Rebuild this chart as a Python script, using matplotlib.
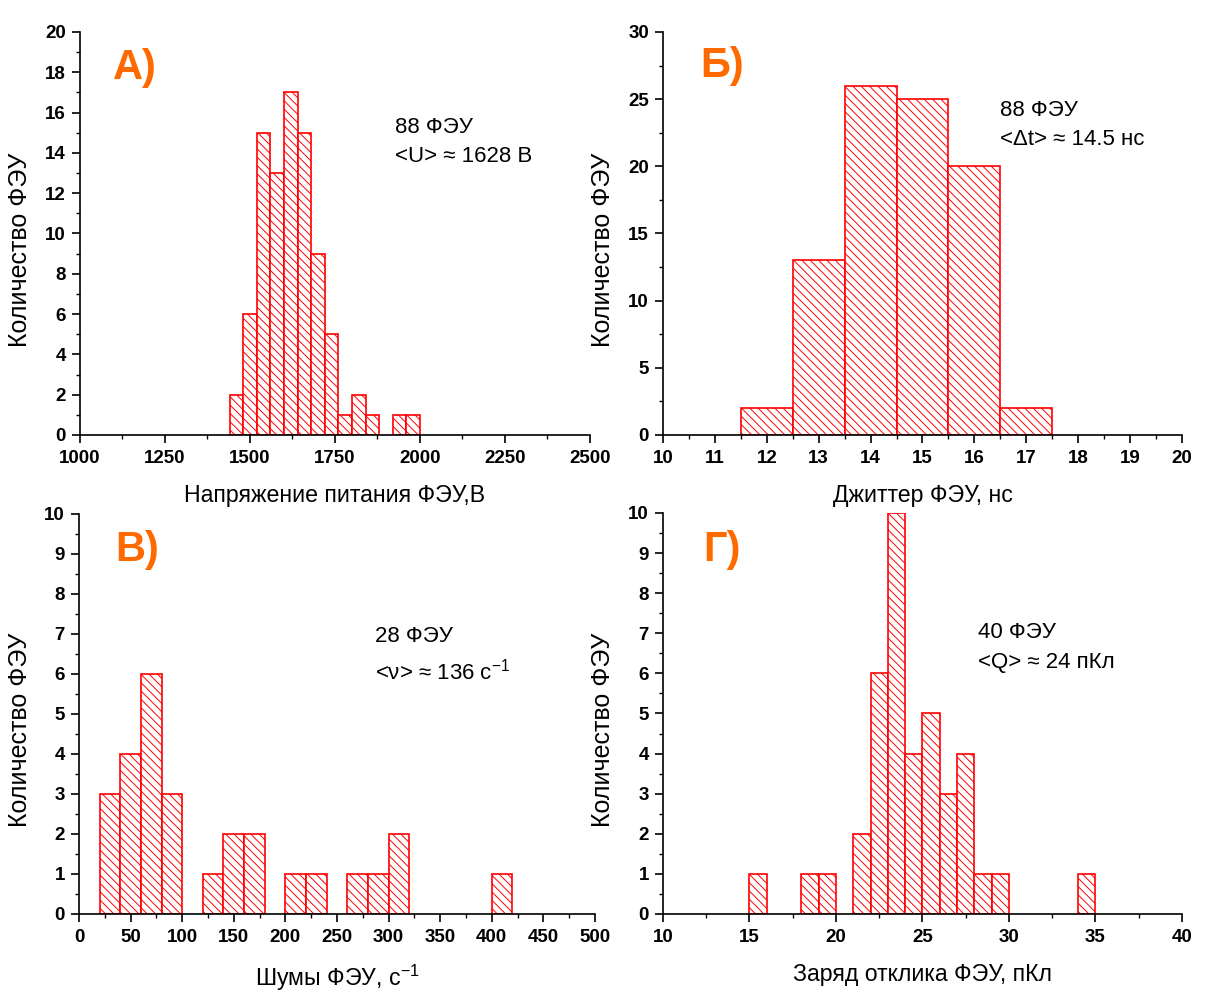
import matplotlib
matplotlib.use('Agg')
import matplotlib.pyplot as plt
from matplotlib.ticker import MultipleLocator

plt.rcParams['font.family'] = ['Liberation Sans', 'DejaVu Sans']
plt.rcParams['mathtext.fontset'] = 'custom'
plt.rcParams['mathtext.rm'] = 'Liberation Sans'
plt.rcParams['hatch.color'] = 'red'
plt.rcParams['hatch.linewidth'] = 0.7

# A) supply voltage, bins of 40 V
volt_left = [1440, 1480, 1520, 1560, 1600, 1640, 1680, 1720, 1760, 1800, 1840, 1920, 1960]
volt_count = [2, 6, 15, 13, 17, 15, 9, 5, 1, 2, 1, 1, 1]

# Б) jitter, bins of 1 ns
jit_left = [11.5, 12.5, 13.5, 14.5, 15.5, 16.5]
jit_count = [2, 13, 26, 25, 20, 2]

# В) noise rate, bins of 20 1/s
noise_left = [20, 40, 60, 80, 120, 140, 160, 200, 220, 260, 280, 300, 400]
noise_count = [3, 4, 6, 3, 1, 2, 2, 1, 1, 1, 1, 2, 1]

# Г) response charge, bins of 1 pC
charge_left = [15, 18, 19, 21, 22, 23, 24, 25, 26, 27, 28, 29, 34]
charge_count = [1, 1, 1, 2, 6, 10, 4, 5, 3, 4, 1, 1, 1]

ylab = 'Количество ФЭУ'


def panel(rect, left, count, width, xlim, xmaj, xmin, ylim, ymaj, ymin,
          xlabel, letter, letter_pos, lines, text_pos, ylab_x):
    ax = fig.add_axes(rect)
    ax.bar(left, count, width=width, align='edge', facecolor='white',
           edgecolor='red', linewidth=1.2, hatch='\\\\\\\\')
    ax.set_xlim(*xlim)
    ax.set_ylim(*ylim)
    ax.xaxis.set_major_locator(MultipleLocator(xmaj))
    ax.xaxis.set_minor_locator(MultipleLocator(xmin))
    ax.yaxis.set_major_locator(MultipleLocator(ymaj))
    ax.yaxis.set_minor_locator(MultipleLocator(ymin))
    for s in ['top', 'right']:
        ax.spines[s].set_visible(False)
    for s in ['left', 'bottom']:
        ax.spines[s].set_linewidth(1.2)
    ax.tick_params(which='major', direction='out', length=6, width=1.2, pad=4,
                   labelsize=13.5)
    ax.tick_params(which='minor', direction='out', length=3, width=1.0)
    ax.tick_params(axis='x', which='major', pad=5)
    for lab in ax.get_xticklabels() + ax.get_yticklabels():
        lab.set_fontweight('bold')
    ax.set_xlabel(xlabel, fontsize=16.7, labelpad=12)
    ax.set_ylabel(ylab, fontsize=18)
    ax.yaxis.set_label_coords(ylab_x, 0.46)
    ax.text(letter_pos[0], letter_pos[1], letter, transform=ax.transAxes,
            color='#FF6A00', fontsize=30, fontweight='bold', va='center', ha='left')
    ax.text(text_pos[0], text_pos[1], lines[0], transform=ax.transAxes,
            fontsize=16, va='center', ha='left')
    ax.text(text_pos[0], text_pos[2], lines[1], transform=ax.transAxes,
            fontsize=16, va='center', ha='left')
    return ax


fig = plt.figure(figsize=(12.25, 10.06), dpi=100)

panel([0.0653, 0.5676, 0.4163, 0.4006], volt_left, volt_count, 40,
      (1000, 2500), 250, 125, (0, 20), 2, 1,
      'Напряжение питания ФЭУ,В', 'А)', (0.064, 0.91),
      ['88 ФЭУ', '<U> ≈ 1628 В'], (0.618, 0.762, 0.69), -0.094)

panel([0.5412, 0.5676, 0.4237, 0.4006], jit_left, jit_count, 1,
      (10, 20), 1, 0.5, (0, 30), 5, 2.5,
      'Джиттер ФЭУ, нс', 'Б)', (0.071, 0.916),
      ['88 ФЭУ', '<Δt> ≈ 14.5 нс'], (0.649, 0.806, 0.732), -0.0925)

panel([0.0645, 0.0915, 0.4212, 0.3976], noise_left, noise_count, 20,
      (0, 500), 50, 25, (0, 10), 1, 0.5,
      'Шумы ФЭУ, с$^{-1}$', 'В)', (0.07, 0.91),
      ['28 ФЭУ', '<ν> ≈ 136 с$^{-1}$'], (0.574, 0.6925, 0.605), -0.091)

panel([0.5412, 0.0915, 0.4237, 0.3986], charge_left, charge_count, 1,
      (10, 40), 5, 2.5, (0, 10), 1, 0.5,
      'Заряд отклика ФЭУ, пКл', 'Г)', (0.077, 0.908),
      ['40 ФЭУ', '<Q> ≈ 24 пКл'], (0.607, 0.703, 0.628), -0.0925)

fig.savefig('out.png', dpi=100)
